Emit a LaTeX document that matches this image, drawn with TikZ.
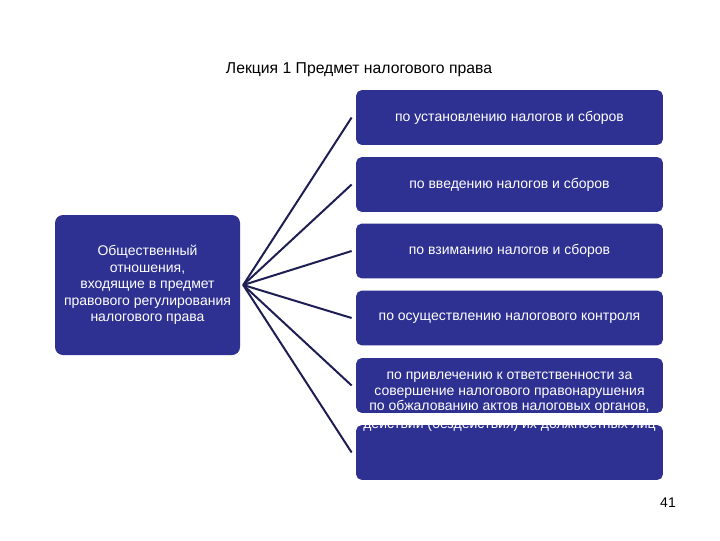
\documentclass[tikz,border=0pt]{standalone}
\usepackage{fontspec}
\setmainfont{Liberation Sans}
\definecolor{boxblue}{RGB}{46,49,146}
\definecolor{linknavy}{RGB}{30,30,84}
\begin{document}
\begin{tikzpicture}[x=0.75pt, y=-0.75pt, thick,
		box/.style={fill=boxblue, text=white, rounded corners=4pt, align=center,
			minimum width=230pt, minimum height=41pt, inner sep=1pt,
			font=\fontsize{10.5}{12}\selectfont},
		link/.style={draw=linknavy, line width=1.5pt}]
		\useasboundingbox (0,0) rectangle (720,540);
		% Заголовок
		\node[font=\fontsize{11.8}{13}\selectfont] (title) at (359,70) {Лекция 1 Предмет налогового права};
		
		% Левый блок
		\node[box, minimum width=138.75pt, minimum height=105pt, rounded corners=6pt,
		font=\fontsize{10.5}{12.4}\selectfont] (lb) at (147.5,285)
		{Общественный\\отношения,\\входящие в предмет\\правового регулирования\\налогового права};
		
		% Правые блоки
		\node[box] (b1) at (509.5,117.5) {по установлению налогов и сборов};
		\node[box] (b2) at (509.5,184.5) {по введению налогов и сборов};
		\node[box] (b3) at (509.5,251) {по взиманию налогов и сборов};
		\node[box] (b4) at (509.5,318) {по осуществлению налогового контроля};
		\node[box] (b5) at (509.5,385.5) {по привлечению к ответственности за\\совершение налогового правонарушения};
		\node[box] (b6) at (509.5,452.5) {};
		% текст шестого блока вылезает вверх
		\node[text=white, align=center, inner sep=0pt, font=\fontsize{10.5}{13.5}\selectfont]
		(t6) at (509.5,416) {по обжалованию актов налоговых органов,\\действий (бездействия) их должностных лиц};
		
		% Линии
		\coordinate (hub) at ([xshift=2pt]lb.east);
		\foreach \i in {1,...,6}
		\draw[link] (hub) -- ([xshift=-3pt]b\i.west);
		
		\node (page) at (668,503) {\fontsize{10.5}{12}\selectfont 41};
\end{tikzpicture}
\end{document}
